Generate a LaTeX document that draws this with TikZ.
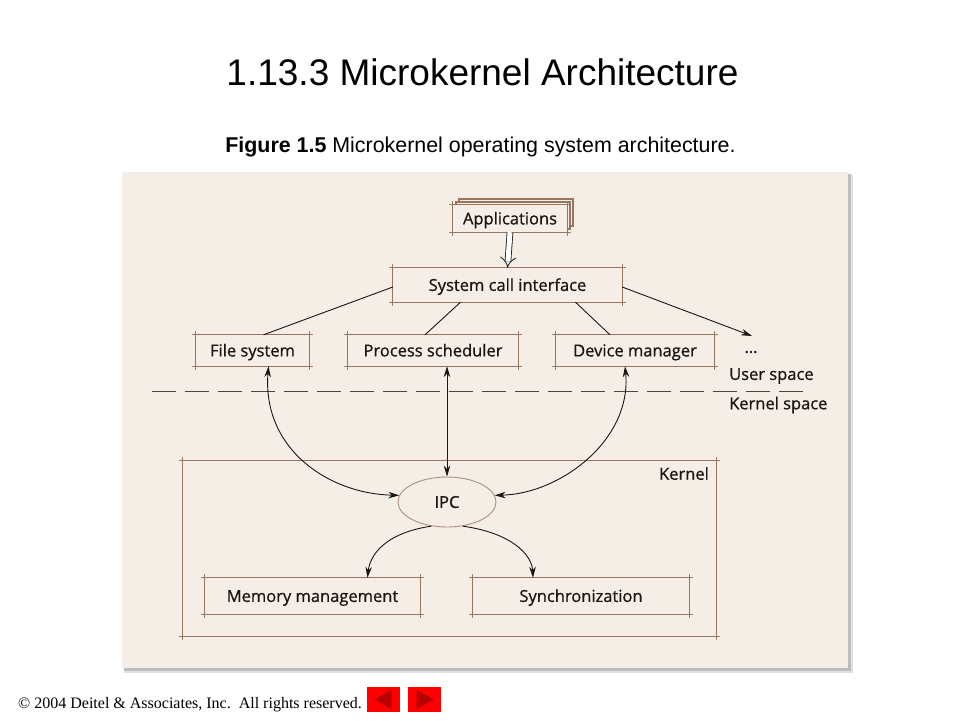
\documentclass[tikz,border=0pt]{standalone}
\usepackage{fontspec}
\setmainfont{Liberation Sans}
\newfontfamily\figfont[RawFeature={embolden=0.8}]{Open Sans}
\newfontfamily\timesf{Liberation Serif}
\usetikzlibrary{arrows.meta,shapes.geometric}
\definecolor{paper}{RGB}{245,238,230}
\definecolor{boxc}{RGB}{150,118,95}
\definecolor{inkc}{RGB}{25,22,20}
\definecolor{shadowc}{RGB}{190,188,190}
\definecolor{shadowl}{RGB}{225,224,226}
\definecolor{btnred}{RGB}{255,0,0}
\definecolor{btndark}{RGB}{185,0,0}
\tikzset{
  skb/.style={inner sep=0pt, font=\figfont\fontsize{16.5}{19}\selectfont, text=inkc, text height=11.8pt, text depth=0pt},
  boxline/.style={draw=boxc, line width=1.3pt, line cap=round},
  lbl/.style={inner sep=0pt, font=\figfont\fontsize{16.5}{19}\selectfont, text=inkc},
  conn/.style={draw=inkc, line width=0.9pt},
  arr/.style={conn, -{Stealth[length=11pt,width=6.5pt]}},
  arrboth/.style={conn, {Stealth[length=11pt,width=6.5pt]}-{Stealth[length=11pt,width=6.5pt]}},
}
\newcommand\sketchbox[1]{%
  \draw[boxline] ([xshift=-3pt]#1.north west) -- ([xshift=3pt]#1.north east)
    ([xshift=-3pt]#1.south west) -- ([xshift=3pt]#1.south east)
    ([yshift=3pt]#1.north west) -- ([yshift=-3pt]#1.south west)
    ([yshift=3pt]#1.north east) -- ([yshift=-3pt]#1.south east);}
\begin{document}
\begin{tikzpicture}[x=1pt,y=-1pt]
\useasboundingbox (0,0) rectangle (960,720);
\fill[white] (0,0) rectangle (960,720);
% title
\node[inner sep=0pt, font=\fontsize{37}{41}\selectfont] (title) at (482.5,72) {1.13.3 Microkernel Architecture};
\node[inner sep=0pt, font=\fontsize{21.4}{24}\selectfont] (caption) at (480.5,147) {\textbf{Figure 1.5} Microkernel operating system architecture.};
% paper
\fill[shadowl] (124,175) rectangle (853,673);
\fill[shadowc] (124,174) rectangle (851,671);
\fill[paper] (122,172) rectangle (848,668);
% applications stack
\filldraw[fill=paper, boxline] (459,199) rectangle (573,226);
\filldraw[fill=paper, boxline] (456,202) rectangle (570,229);
\node[skb, fill=paper, minimum width=114pt, minimum height=27pt] (app) at (510,218.5) {Applications};
\sketchbox{app}
% boxes
\node[skb, minimum width=229pt, minimum height=34pt] (sci) at (507.5,285) {System call interface};
\sketchbox{sci}
\node[skb, minimum width=113pt, minimum height=31pt] (fs) at (252.5,350.5) {File system};
\sketchbox{fs}
\node[skb, minimum width=170pt, minimum height=31pt] (ps) at (433,350.5) {Process scheduler};
\sketchbox{ps}
\node[skb, minimum width=158pt, minimum height=31pt] (dm) at (635,350.5) {Device manager};
\sketchbox{dm}
\node[lbl] (dots) at (751,352) {\dots};
\coordinate (dotstip) at (752,336);
\node[lbl, anchor=west] (us) at (729,376) {User space};
\node[lbl, anchor=west] (ks) at (729,405) {Kernel space};
% dashed separator
\coordinate (dl) at (152,391);
\coordinate (dr) at (805,391);
\draw[draw=inkc!80, line width=0.9pt, dash pattern=on 24pt off 9pt] (dl) -- (dr);
% kernel
\node[inner sep=0pt, minimum width=533pt, minimum height=175pt] (kern) at (449.5,548.5) {};
\sketchbox{kern}
\node[lbl, anchor=north east] (kl) at (709,467) {Kernel};
\node[skb, ellipse, draw=boxc!80, line width=0.9pt, minimum width=98pt, minimum height=50pt] (ipc) at (447,502) {IPC};
\node[skb, minimum width=215pt, minimum height=36pt] (mm) at (312.5,596) {Memory management};
\sketchbox{mm}
\node[skb, minimum width=216pt, minimum height=36pt] (sync) at (581,596) {Synchronization};
\sketchbox{sync}
% connectors
\draw[inkc, line width=0.8pt, double distance=5pt, -{Implies[length=8pt,width=17pt]}] (app.south) -- (sci.north);
\draw[conn] ([yshift=-2pt]sci.west) -- ([xshift=11pt]fs.north);
\draw[conn] ([xshift=-47pt]sci.south) -- ([xshift=-8pt]ps.north);
\draw[conn] ([xshift=68pt]sci.south) -- ([xshift=-25pt]dm.north);
\draw[arr] ([yshift=-2pt]sci.east) -- (dotstip);
\draw[arrboth] ([xshift=16pt]fs.south) .. controls (262,450) and (330,494) .. (ipc.172);
\draw[arrboth] (ipc.north) -- (ipc.north |- ps.south);
\draw[arrboth] ([xshift=-10pt]dm.south) .. controls (632,440) and (560,494) .. (ipc.8);
\draw[arr] (ipc.237) .. controls (385,533) and (370,555) .. ([xshift=55pt]mm.north);
\draw[arr] (ipc.303) .. controls (512,533) and (532,555) .. ([xshift=-48pt]sync.north);
% footer
\node[inner sep=0pt, anchor=west, font=\timesf\fontsize{16}{18}\selectfont] (foot) at (18,705) {\textcopyright{} 2004 Deitel \& Associates, Inc.\ \ All rights reserved.};
\node[fill=btnred, minimum width=33pt, minimum height=25pt, inner sep=0pt] (bl) at (383.5,699.5) {};
\node[fill=btnred, minimum width=33pt, minimum height=25pt, inner sep=0pt] (br) at (424.5,699.5) {};
\fill[btndark] ([xshift=-9pt]bl.center) -- ([xshift=8pt,yshift=10pt]bl.center) -- ([xshift=8pt,yshift=-10pt]bl.center) -- cycle;
\fill[btndark] ([xshift=9pt]br.center) -- ([xshift=-8pt,yshift=10pt]br.center) -- ([xshift=-8pt,yshift=-10pt]br.center) -- cycle;
\end{tikzpicture}
\end{document}
